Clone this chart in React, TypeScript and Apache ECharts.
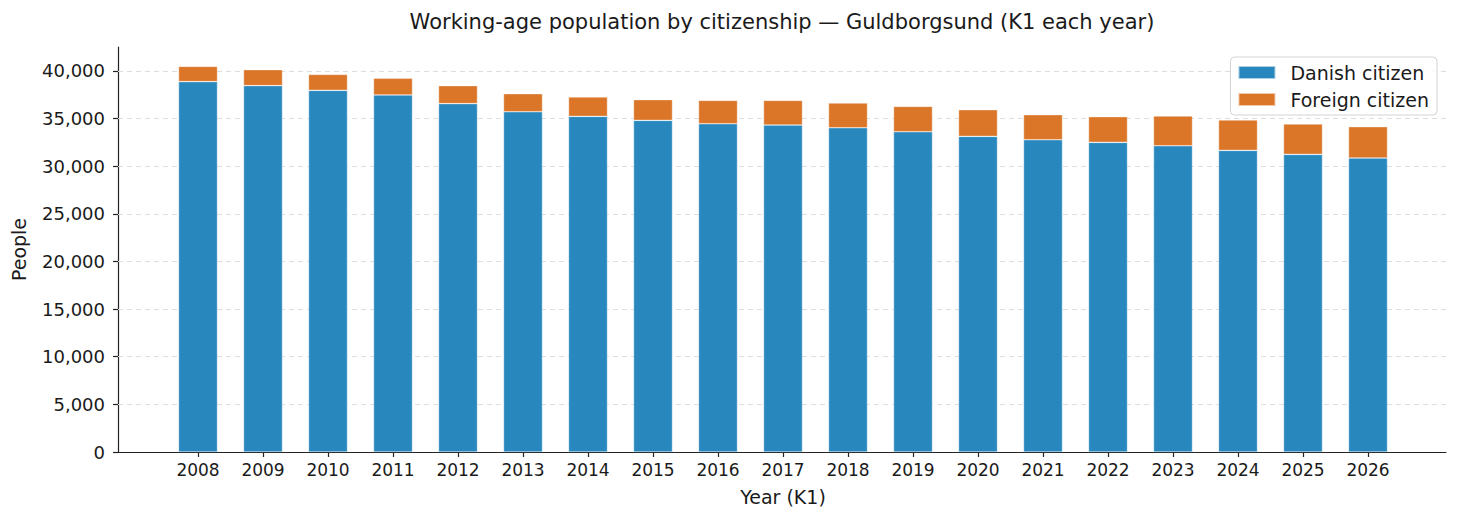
import React, { useEffect, useRef } from "react";
import * as echarts from "echarts";

const years = ["2008", "2009", "2010", "2011", "2012", "2013", "2014", "2015", "2016", "2017", "2018", "2019", "2020", "2021", "2022", "2023", "2024", "2025", "2026"];
const danish = [38870, 38450, 37950, 37470, 36560, 35710, 35220, 34800, 34450, 34310, 34030, 33610, 33120, 32770, 32490, 32140, 31650, 31230, 30850];
const foreign = [1600, 1680, 1680, 1750, 1890, 1890, 2040, 2180, 2450, 2590, 2590, 2660, 2800, 2630, 2700, 3120, 3190, 3190, 3290];
const yTicks = [0, 5000, 10000, 15000, 20000, 25000, 30000, 35000, 40000];

const FONT = "DejaVu Sans";
const BLUE = "#2888bd";
const ORANGE = "#db7528";
const INK = "#1a1a1a";

const App: React.FC = () => {
  const chartRef = useRef<HTMLDivElement | null>(null);

  useEffect(() => {
    document.body.style.margin = "0";
    if (!chartRef.current) return;
    const chart = echarts.init(chartRef.current, null, { renderer: "svg" });

    chart.setOption({
      animation: false,
      textStyle: { fontFamily: FONT },
      graphic: [
        {
          type: "text",
          x: 782,
          y: 22,
          style: {
            text: "Working-age population by citizenship — Guldborgsund (K1 each year)",
            font: `21px "${FONT}"`,
            fill: INK,
            align: "center",
            verticalAlign: "middle",
          },
        },
      ],
      legend: {
        orient: "vertical",
        right: 23,
        top: 57,
        padding: [6, 8, 6, 7],
        icon: "rect",
        itemWidth: 37,
        itemHeight: 13,
        itemGap: 8,
        backgroundColor: "rgba(255,255,255,0.85)",
        borderColor: "#d4d4d4",
        borderWidth: 1,
        borderRadius: 4,
        textStyle: { fontFamily: FONT, fontSize: 19, color: INK, padding: [0, 0, 0, 10] },
        data: ["Danish citizen", "Foreign citizen"],
      },
      grid: [
        // bars: one category per 65px, centred in the frame
        { left: 165.5, right: 59.5, top: 47, bottom: 69, containLabel: false },
        // frame: spines, y ticks and grid lines
        { left: 118, right: 14, top: 47, bottom: 69, containLabel: false },
      ],
      xAxis: [
        {
          type: "category",
          gridIndex: 0,
          data: years,
          boundaryGap: true,
          name: "Year (K1)",
          nameLocation: "middle",
          nameGap: 35,
          nameTextStyle: { fontFamily: FONT, fontSize: 19, color: INK },
          axisLine: { show: false },
          axisTick: { show: true, alignWithLabel: true, length: 5, lineStyle: { color: "#222", width: 1.2 } },
          axisLabel: { fontFamily: FONT, fontSize: 17, color: INK, margin: 9 },
          splitLine: { show: false },
        },
        {
          type: "value",
          gridIndex: 1,
          min: 0,
          max: 1,
          axisLine: { show: true, lineStyle: { color: "#222", width: 1.2 } },
          axisTick: { show: false },
          axisLabel: { show: false },
          splitLine: { show: false },
        },
      ],
      yAxis: [
        { type: "value", gridIndex: 0, min: 0, max: 42500, show: false, splitLine: { show: false } },
        {
          type: "value",
          gridIndex: 1,
          min: 0,
          max: 42500,
          name: "People",
          nameLocation: "middle",
          nameGap: 90,
          nameTextStyle: { fontFamily: FONT, fontSize: 19, color: INK },
          axisLine: { show: true, lineStyle: { color: "#222", width: 1.2 } },
          axisTick: { show: true, customValues: yTicks, length: 5, lineStyle: { color: "#222", width: 1.2 } },
          axisLabel: {
            customValues: yTicks,
            formatter: (v: number) => v.toLocaleString("en-US"),
            fontFamily: FONT,
            fontSize: 18,
            color: INK,
            margin: 13,
          },
          splitLine: { show: false },
        },
      ],
      series: [
        {
          name: "Danish citizen",
          type: "bar",
          xAxisIndex: 0,
          yAxisIndex: 0,
          stack: "total",
          barWidth: 39,
          data: danish,
          itemStyle: { color: BLUE, borderColor: "rgba(255,255,255,0.6)", borderWidth: 0.6 },
        },
        {
          name: "Foreign citizen",
          type: "bar",
          xAxisIndex: 0,
          yAxisIndex: 0,
          stack: "total",
          barWidth: 39,
          data: foreign,
          itemStyle: { color: ORANGE, borderColor: "rgba(255,255,255,0.6)", borderWidth: 0.6 },
        },
        {
          // carrier for the dashed horizontal grid lines behind the bars
          name: "grid",
          type: "line",
          xAxisIndex: 1,
          yAxisIndex: 1,
          data: [],
          silent: true,
          markLine: {
            silent: true,
            z: 1,
            symbol: "none",
            label: { show: false },
            lineStyle: { color: "#dddddd", type: [5, 4], width: 1 },
            data: yTicks.slice(1).map((v) => ({ yAxis: v })),
          },
        },
      ],
    });

    return () => {
      chart.dispose();
    };
  }, []);

  return <div ref={chartRef} style={{ width: 1460, height: 521 }} />;
};

export default App;
